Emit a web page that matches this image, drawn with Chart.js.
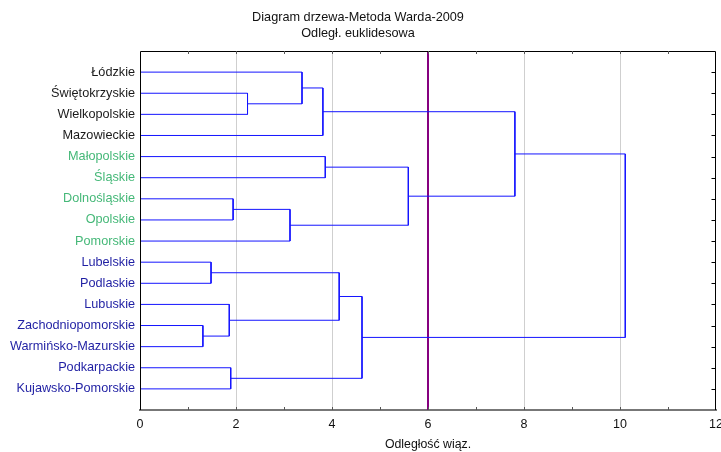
<!DOCTYPE html>
<html>
<head>
<meta charset="utf-8">
<script src="https://cdn.jsdelivr.net/npm/chart.js@4.4.1/dist/chart.umd.min.js"></script>
<style>
  html, body { margin: 0; padding: 0; background: #fff; }
  #wrap { width: 721px; height: 452px; }
</style>
</head>
<body>
<div id="wrap"><canvas id="tree"></canvas></div>
<script>
// leaves in display order (top to bottom)
const regions = ['Łódzkie', 'Świętokrzyskie', 'Wielkopolskie', 'Mazowieckie',
  'Małopolskie', 'Śląskie', 'Dolnośląskie', 'Opolskie', 'Pomorskie',
  'Lubelskie', 'Podlaskie', 'Lubuskie', 'Zachodniopomorskie', 'Warmińsko-Mazurskie',
  'Podkarpackie', 'Kujawsko-Pomorskie'];
const regionGroup = [0, 0, 0, 0, 1, 1, 1, 1, 1, 2, 2, 2, 2, 2, 2, 2];
const groupColors = ['#1a1a1a', '#45b878', '#1f1fa3'];

// Ward merges: node 16+i joins mergeLeft[i] and mergeRight[i] at mergeHeight[i]
const mergeLeft   = [12, 9, 11, 14, 6, 1, 20, 0, 23, 4, 17, 26, 25, 24, 29];
const mergeRight  = [13, 10, 16, 15, 7, 2, 8, 21, 3, 5, 18, 19, 22, 28, 27];
const mergeHeight = [1.31, 1.48, 1.86, 1.89, 1.94, 2.24, 3.125, 3.375, 3.81, 3.86, 4.15, 4.625, 5.59, 7.81, 10.11];

const cutLevel = 6;
const xTicks = [0, 2, 4, 6, 8, 10, 12];

const FONT = '"Liberation Sans", Arial, sans-serif';

const buildLinks = () => {
    const nodeY = regions.map((_, i) => i);
    const nodeH = regions.map(() => 0);
    const links = [];
    mergeHeight.forEach((h, i) => {
        const a = mergeLeft[i], b = mergeRight[i];
        links.push([
            { x: nodeH[a], y: nodeY[a] },
            { x: h, y: nodeY[a] },
            { x: h, y: nodeY[b] },
            { x: nodeH[b], y: nodeY[b] }
        ]);
        nodeY.push((nodeY[a] + nodeY[b]) / 2);
        nodeH.push(h);
    });
    return links;
};

// frame + inner ticks like the Statistica plot
const frameTicks = {
    id: 'frameTicks',
    afterDraw(chart) {
        const { ctx, chartArea: a, scales } = chart;
        ctx.save();
        ctx.strokeStyle = '#000';
        ctx.lineWidth = 1;
        ctx.beginPath();
        ctx.moveTo(a.left + 0.5, a.bottom);
        ctx.lineTo(a.left + 0.5, a.top + 0.5);
        ctx.lineTo(a.right - 0.5, a.top + 0.5);
        ctx.lineTo(a.right - 0.5, a.bottom);
        // right ticks at each row
        for (let i = 0; i < regions.length; i++) {
            const y = Math.round(scales.y.getPixelForValue(i)) + 0.5;
            ctx.moveTo(a.right - 0.5, y);
            ctx.lineTo(a.right - 4.5, y);
        }
        ctx.stroke();
        // top and bottom minor ticks
        ctx.strokeStyle = '#555';
        ctx.beginPath();
        for (let v = 1; v < 12; v++) {
            const x = Math.round(scales.x.getPixelForValue(v)) + 0.5;
            ctx.moveTo(x, a.top);
            ctx.lineTo(x, a.top + 3);
            ctx.moveTo(x, a.bottom);
            ctx.lineTo(x, a.bottom - 3);
        }
        ctx.stroke();
        ctx.restore();
    }
};

const createTree = () => {
    const ctx = document.getElementById('tree').getContext('2d');

    const datasets = buildLinks().map(pts => ({
        data: pts,
        showLine: true,
        borderColor: '#1414ff',
        borderWidth: 1,
        pointRadius: 0,
        tension: 0
    }));
    datasets.push({
        data: [{ x: cutLevel, y: -1 }, { x: cutLevel, y: 16 }],
        showLine: true,
        borderColor: '#85007f',
        borderWidth: 2,
        pointRadius: 0
    });

    new Chart(ctx, {
        type: 'scatter',
        data: { datasets },
        options: {
            responsive: true,
            maintainAspectRatio: false,
            animation: false,
            layout: { padding: { left: 0, right: 5, top: 0, bottom: 0 } },
            scales: {
                x: {
                    type: 'linear',
                    min: 0,
                    max: 12,
                    afterBuildTicks: s => { s.ticks = xTicks.map(v => ({ value: v })); },
                    ticks: { color: '#111', font: { family: FONT, size: 12.5 }, padding: 7, maxRotation: 0 },
                    grid: {
                        drawTicks: false,
                        color: c => (c.tick && [2, 4, 8, 10].includes(c.tick.value)) ? '#cfcfcf' : 'rgba(0,0,0,0)'
                    },
                    border: { display: true, color: '#777', width: 2 },
                    title: {
                        display: true,
                        text: 'Odległość wiąz.',
                        color: '#111',
                        font: { family: FONT, size: 12.3 },
                        padding: { top: 4, bottom: 0 }
                    },
                    afterFit: s => { s.height = 42; s.paddingRight = 0; s.paddingLeft = 0; }
                },
                y: {
                    type: 'linear',
                    reverse: true,
                    min: -1,
                    max: 16,
                    afterBuildTicks: s => { s.ticks = regions.map((_, i) => ({ value: i })); },
                    ticks: {
                        autoSkip: false,
                        padding: 5,
                        font: { family: FONT, size: 12.7 },
                        color: c => groupColors[regionGroup[c.tick.value]] || '#000',
                        callback: v => regions[v] ?? ''
                    },
                    grid: { display: false, drawTicks: false },
                    border: { display: false },
                    afterFit: s => { s.width = 140; s.paddingTop = 0; s.paddingBottom = 0; }
                }
            },
            plugins: {
                legend: { display: false },
                tooltip: { enabled: false },
                title: {
                    display: true,
                    text: ['Diagram drzewa-Metoda Warda-2009', 'Odległ. euklidesowa'],
                    color: '#111',
                    font: { family: FONT, size: 12.7, weight: 'normal', lineHeight: 1.26 },
                    padding: { top: 9, bottom: 10 }
                }
            }
        },
        plugins: [frameTicks]
    });
};

createTree();
</script>
</body>
</html>
